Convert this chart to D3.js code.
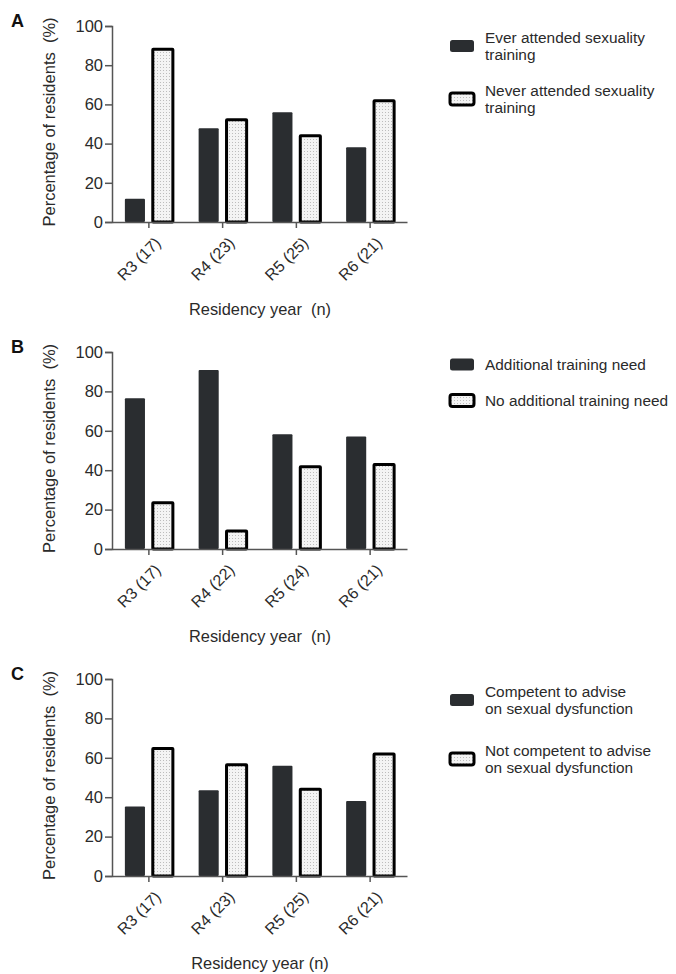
<!DOCTYPE html>
<html>
<head>
<meta charset="utf-8">
<script src="https://cdn.jsdelivr.net/npm/d3@7"></script>
<style>
  body { margin: 0; background: #fff; }
  svg text { font-family: "Liberation Sans", Arial, sans-serif; fill: #2a2a2a; white-space: pre; }
</style>
</head>
<body>
<svg id="chart" width="676" height="974"></svg>
<script>
// categories per panel (residency year with n)
var categoriesA = ["R3 (17)", "R4 (23)", "R5 (25)", "R6 (21)"];
var categoriesB = ["R3 (17)", "R4 (22)", "R5 (24)", "R6 (21)"];
var categoriesC = ["R3 (17)", "R4 (23)", "R5 (25)", "R6 (21)"];

// percentages
var everAttended = [11.8, 47.8, 56.0, 38.1];
var neverAttended = [88.2, 52.2, 44.0, 61.9];
var needTraining = [76.5, 90.9, 58.3, 57.1];
var noNeedTraining = [23.5, 9.1, 41.7, 42.9];
var competent = [35.3, 43.5, 56.0, 38.1];
var notCompetent = [64.7, 56.5, 44.0, 61.9];

var legendA = [["Ever attended sexuality", "training"], ["Never attended sexuality", "training"]];
var legendB = [["Additional training need"], ["No additional training need"]];
var legendC = [["Competent to advise", "on sexual dysfunction"], ["Not competent to advise", "on sexual dysfunction"]];

var yTicks = [0, 20, 40, 60, 80, 100];

var svg = d3.select("#chart");

// dotted light fill used by the second series
var defs = svg.append("defs");
var pat = defs.append("pattern")
	.attr("id", "dots")
	.attr("patternUnits", "userSpaceOnUse")
	.attr("width", 3)
	.attr("height", 3);
pat.append("rect").attr("width", 3).attr("height", 3).attr("fill", "#f4f4f4");
pat.append("rect").attr("x", 1).attr("y", 1).attr("width", 1).attr("height", 1).attr("fill", "#bdbdbd");

var panels = [
	{letter: "A", cats: categoriesA, series: [everAttended, neverAttended], legend: legendA,
		top: 26, bottom: 222, xTitle: "Residency year  (n)", legendTop: 32, legendGap: 53},
	{letter: "B", cats: categoriesB, series: [needTraining, noNeedTraining], legend: legendB,
		top: 352, bottom: 549, xTitle: "Residency year  (n)", legendTop: 359, legendGap: 36},
	{letter: "C", cats: categoriesC, series: [competent, notCompetent], legend: legendC,
		top: 679, bottom: 876, xTitle: "Residency year (n)", legendTop: 686, legendGap: 59}
];

var left = 112, right = 407;
var axisColor = "#555";
var darkFill = "#2a2d30";

var drawPanel = function (p) {
	var g = svg.append("g");

	var x = d3.scaleBand().domain(p.cats).range([left, right]).padding(0);
	var xInner = d3.scaleBand().domain([0, 1]).range([-24, 24]).paddingInner(0.28);
	var y = d3.scaleLinear().domain([0, 100]).range([p.bottom, p.top]);

	// bars
	p.series.forEach(function (vals, s) {
		g.append("g").selectAll("rect")
			.data(vals)
			.join("rect")
			.attr("x", function (d, i) { return x(p.cats[i]) + x.bandwidth() / 2 + xInner(s); })
			.attr("y", function (d) { return y(d); })
			.attr("width", xInner.bandwidth())
			.attr("height", function (d) { return y(0) - y(d); })
			.attr("rx", s === 0 ? 1 : 0.5)
			.attr("fill", s === 0 ? darkFill : "url(#dots)")
			.attr("stroke", s === 0 ? "none" : "#000")
			.attr("stroke-width", s === 0 ? 0 : 3);
	});

	// y axis
	var yAxis = g.append("g")
		.attr("transform", "translate(" + left + ",0)")
		.call(d3.axisLeft(y).tickValues(yTicks).tickSize(7).tickPadding(2));
	yAxis.selectAll("text").attr("font-size", "16.5px").style("fill", "#2a2a2a");

	// x axis
	var xAxis = g.append("g")
		.attr("transform", "translate(0," + p.bottom + ")")
		.call(d3.axisBottom(x).tickSize(6).tickSizeOuter(0));
	xAxis.selectAll("text")
		.attr("font-size", "16px")
		.attr("text-anchor", "end")
		.attr("dy", "0.35em")
		.attr("transform", "translate(9,18) rotate(-45)")
		.attr("y", 0)
		.attr("x", 0)
		.style("fill", "#2a2a2a");

	[yAxis, xAxis].forEach(function (ax) {
		ax.select(".domain").attr("stroke", axisColor).attr("stroke-width", 1.5);
		ax.selectAll(".tick line").attr("stroke", axisColor).attr("stroke-width", 1.5);
	});

	// axis titles
	g.append("text")
		.attr("transform", "translate(55," + ((p.top + p.bottom) / 2 - 2) + ") rotate(-90)")
		.attr("text-anchor", "middle")
		.attr("font-size", "16.5px")
		.text("Percentage of residents  (%)");

	g.append("text")
		.attr("x", 260)
		.attr("y", p.bottom + 93)
		.attr("text-anchor", "middle")
		.attr("font-size", "16.4px")
		.text(p.xTitle);

	// panel letter
	g.append("text")
		.attr("x", 11)
		.attr("y", p.top + 1)
		.attr("font-size", "18px")
		.attr("font-weight", "bold")
		.style("fill", "#111")
		.text(p.letter);

	// legend
	p.legend.forEach(function (lines, s) {
		var ty = p.legendTop + s * p.legendGap;
		var blockMid = ty + ((lines.length - 1) * 17 + 11) / 2;
		g.append("rect")
			.attr("x", 450)
			.attr("y", blockMid - 6)
			.attr("width", 24)
			.attr("height", 12)
			.attr("rx", 2.5)
			.attr("fill", s === 0 ? darkFill : "url(#dots)")
			.attr("stroke", s === 0 ? "none" : "#000")
			.attr("stroke-width", s === 0 ? 0 : 3);
		var t = g.append("text")
			.attr("x", 485)
			.attr("y", ty + 11)
			.attr("font-size", "15.4px");
		lines.forEach(function (line, k) {
			t.append("tspan").attr("x", 485).attr("dy", k === 0 ? 0 : 17).text(line);
		});
	});
};

panels.forEach(drawPanel);
</script>
</body>
</html>
